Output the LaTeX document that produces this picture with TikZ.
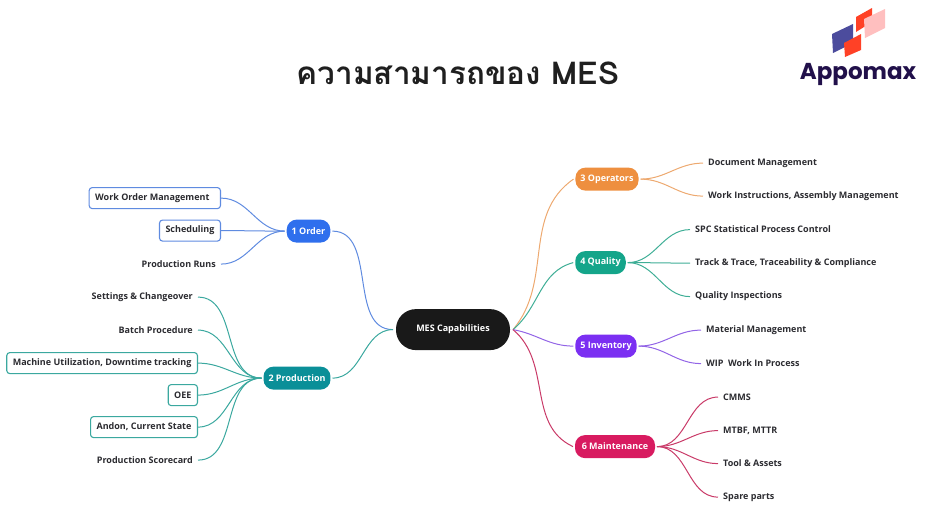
\documentclass[tikz,border=0pt]{standalone}
\usepackage{fontspec}
\setmainfont{Open Sans}
\newfontfamily\thaifont[Script=Thai]{Loma}
\newfontfamily\logofont{Poppins}
\definecolor{inkc}{HTML}{2B2B30}
\definecolor{orderc}{HTML}{2F6FED}
\definecolor{orderl}{HTML}{5F8BE0}
\definecolor{prodc}{HTML}{0A8F98}
\definecolor{prodl}{HTML}{3BA89F}
\definecolor{operc}{HTML}{EE8F3F}
\definecolor{operl}{HTML}{EDA970}
\definecolor{qualc}{HTML}{14A58A}
\definecolor{quall}{HTML}{3FAE96}
\definecolor{invc}{HTML}{7B2FF2}
\definecolor{invl}{HTML}{9264E6}
\definecolor{mainc}{HTML}{D81B60}
\definecolor{mainl}{HTML}{C93A68}
\definecolor{logoc}{HTML}{21104A}
\tikzset{
  hub/.style={fill=#1,text=white,font=\fontsize{9}{10}\selectfont\bfseries,rounded corners=10pt,minimum height=23pt,inner xsep=5pt,inner ysep=0pt,outer sep=2pt,yshift=-0.6pt},
  leaf/.style={text=inkc,font=\fontsize{9}{10}\selectfont\bfseries,inner xsep=5pt,inner ysep=2pt,yshift=-0.6pt},
  boxed/.style={leaf,draw=#1,rounded corners=3pt,line width=1.1pt,minimum height=21pt,inner xsep=6pt},
  link/.style={draw=#1,line width=1pt},
}
\begin{document}
\begin{tikzpicture}[x=1pt,y=-1pt]
\useasboundingbox (0,0) rectangle (938,515);
\node[font=\fontsize{31.5}{38}\selectfont\thaifont\bfseries,text=black!88] (title) at (458,73) {ความสามารถของ MES};
\fill[fill=blue!45!black!70!white] (832,34) -- (853,24) -- (853,43) -- (833,53) -- cycle;
\fill[fill=red!75!orange!85!white] (844,43) -- (861,34) -- (861,50) -- (845,57) -- cycle;
\fill[fill=red!75!orange!85!white] (856,17) -- (872,8) -- (872,22) -- (856,32) -- cycle;
\fill[fill=pink] (864,19) -- (885,9) -- (885,28) -- (865,38) -- cycle;
\node[font=\fontsize{23}{28}\selectfont\logofont\bfseries,text=logoc] (logo) at (858,74) {Appomax};

\node[fill=black!90,text=white,font=\fontsize{9}{10}\selectfont\bfseries,rounded corners=20pt,minimum width=114pt,minimum height=41pt,outer sep=3pt,yshift=-0.6pt] (mes) at (453,329) {MES Capabilities};

\node[hub=orderc] (order) at (308.5,230.5) {1 Order};
\node[hub=prodc] (prod) at (297,377.5) {2 Production};
\node[hub=operc] (oper) at (607,178.5) {3 Operators};
\node[hub=qualc] (qual) at (600.5,262) {4 Quality};
\node[hub=invc] (inv) at (606,345.5) {5 Inventory};
\node[hub=mainc,minimum width=80pt] (maint) at (615,446) {6 Maintenance};

\node[boxed=orderl,anchor=east] (wom) at (221,197.5) {Work Order Management\rule{5pt}{0pt}};
\node[boxed=orderl,anchor=east] (sched) at (221,230) {Scheduling};
\node[leaf,anchor=east] (runs) at (221,263.5) {Production Runs};

\node[leaf,anchor=east] (settings) at (198,296.5) {Settings \& Changeover};
\node[leaf,anchor=east] (batch) at (198,329.5) {Batch Procedure};
\node[boxed=prodl,anchor=east] (machine) at (198,362.5) {Machine Utilization, Downtime tracking};
\node[boxed=prodl,anchor=east] (oee) at (198,394.5) {OEE};
\node[boxed=prodl,anchor=east] (andon) at (198,426.5) {Andon, Current State};
\node[leaf,anchor=east] (score) at (198,459.5) {Production Scorecard};

\node[leaf,anchor=west] (doc) at (703,162.5) {Document Management};
\node[leaf,anchor=west] (work) at (703,195.5) {Work Instructions, Assembly Management};
\node[leaf,anchor=west] (spc) at (690,229) {SPC Statistical Process Control};
\node[leaf,anchor=west] (track) at (690,262.5) {Track \& Trace, Traceability \& Compliance};
\node[leaf,anchor=west] (qi) at (690,296) {Quality Inspections};
\node[leaf,anchor=west] (mat) at (701,329.5) {Material Management};
\node[leaf,anchor=west] (wip) at (701,363) {WIP\ \ Work In Process};
\node[leaf,anchor=west] (cmms) at (718,396.5) {CMMS};
\node[leaf,anchor=west] (mtbf) at (718,430) {MTBF, MTTR};
\node[leaf,anchor=west] (tool) at (718,463) {Tool \& Assets};
\node[leaf,anchor=west] (spare) at (718,496.5) {Spare parts};

\foreach \i/\j/\c in {wom/order/orderl,sched/order/orderl,runs/order/orderl,settings/prod/prodl,batch/prod/prodl,machine/prod/prodl,oee/prod/prodl,andon/prod/prodl,score/prod/prodl,order/mes/orderl,prod/mes/prodl,oper/doc/operl,oper/work/operl,qual/spc/quall,qual/track/quall,qual/qi/quall,inv/mat/invl,inv/wip/invl,maint/cmms/mainl,maint/mtbf/mainl,maint/tool/mainl,maint/spare/mainl} {
  \draw[link=\c] (\i.east) to[out=0,in=180] (\j.west);
}
\foreach \j/\c/\a/\b in {oper/operl/50/215,qual/quall/40/195,inv/invl/-10/180,maint/mainl/-40/155} {
  \draw[link=\c] (mes.east) to[out=\a,in=\b] (\j.west);
}
\end{tikzpicture}
\end{document}
